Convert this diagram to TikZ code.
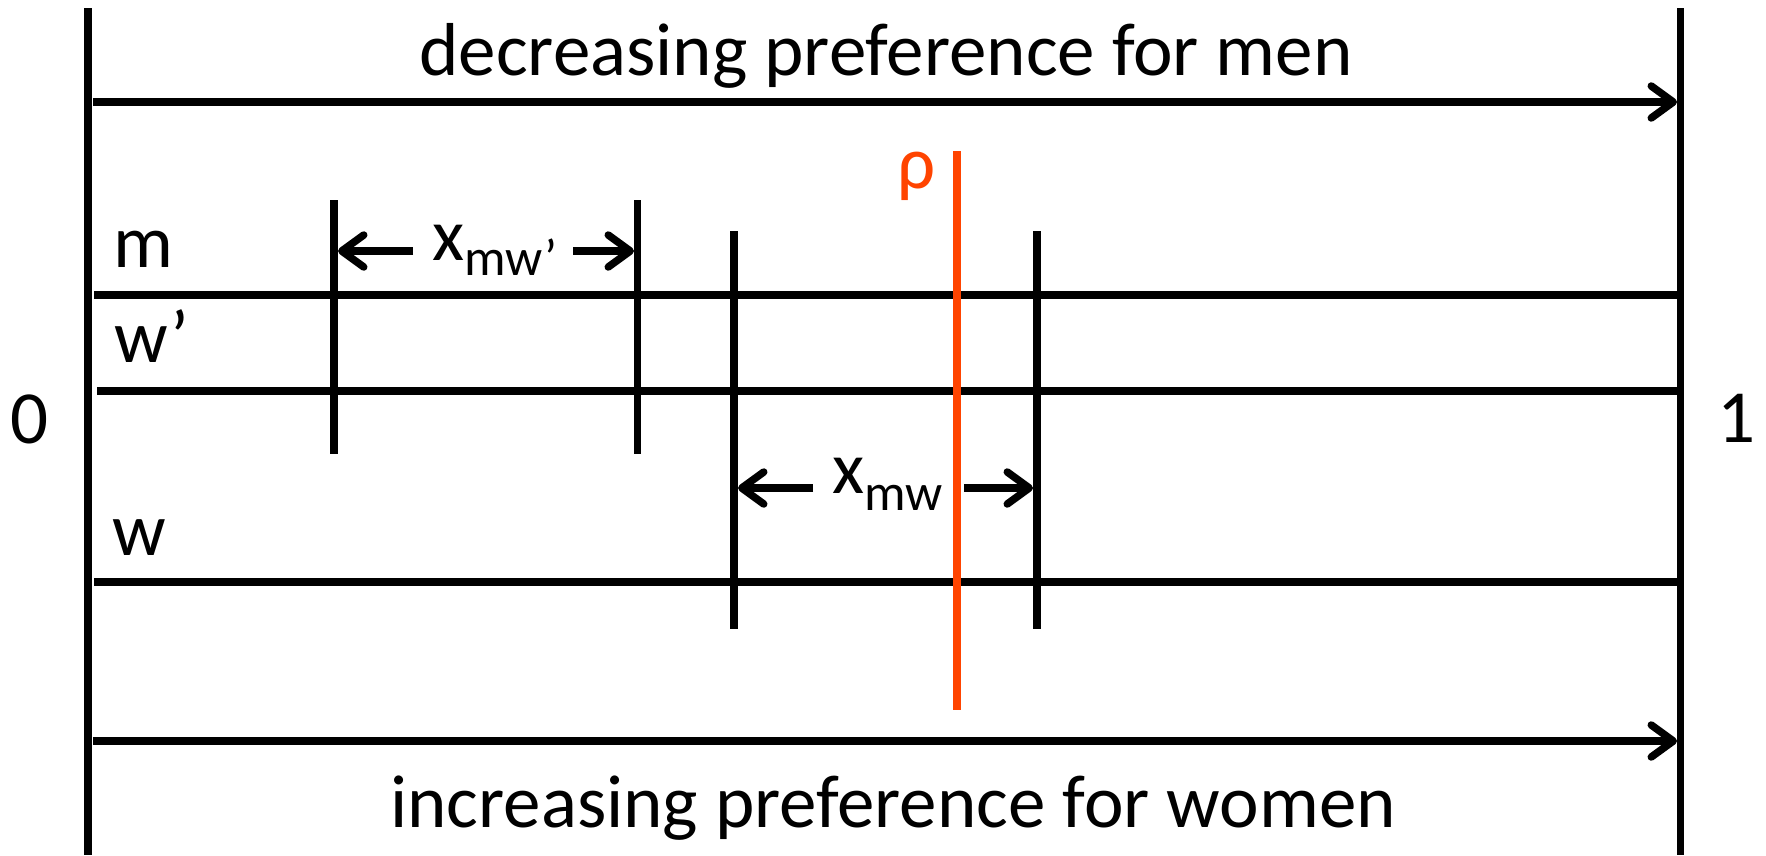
\documentclass[tikz,border=0pt]{standalone}
\usepackage{fontspec}
\setmainfont{Carlito}
\usetikzlibrary{arrows.meta}
\definecolor{rhored}{RGB}{255,68,0}
\begin{document}
\begin{tikzpicture}[x=1pt,y=-1pt,
  bar/.style={line width=7.5pt},
  arr/.style={line width=7.5pt,-{Straight Barb[length=22pt,width=32pt,round]}},
  lbl/.style={inner sep=0pt,font=\fontsize{75}{90}\selectfont},
  sublbl/.style={inner sep=0pt,font=\fontsize{74}{88}\selectfont,anchor=base west},
]
\fill[white] (0,0) rectangle (1766,855);
\useasboundingbox (0,0) rectangle (1766,855);

% frame lines
\coordinate (L0) at (88,8);     \coordinate (L1) at (88,855);
\coordinate (R0) at (1680.5,8); \coordinate (R1) at (1680.5,855);
\draw[bar] (L0) -- (L1);
\draw[bar] (R0) -- (R1);

% top and bottom arrows
\coordinate (TA0) at (93,102);  \coordinate (TA1) at (1677,102);
\coordinate (BA0) at (93,741);  \coordinate (BA1) at (1677,741);
\draw[arr] (TA0) -- (TA1);
\draw[arr] (BA0) -- (BA1);

% horizontal lines
\coordinate (M0) at (94,295);   \coordinate (M1) at (1680,295);
\coordinate (WP0) at (97,391);  \coordinate (WP1) at (1680,391);
\coordinate (W0) at (94,582);   \coordinate (W1) at (1680,582);
\draw[bar] (M0) -- (M1);
\draw[bar] (WP0) -- (WP1);
\draw[bar] (W0) -- (W1);

% ticks
\coordinate (T1a) at (334,200);   \coordinate (T1b) at (334,454);
\coordinate (T2a) at (637.5,200); \coordinate (T2b) at (637.5,454);
\coordinate (T3a) at (734,231);   \coordinate (T3b) at (734,629);
\coordinate (T4a) at (1037,231);  \coordinate (T4b) at (1037,629);
\draw[bar] (T1a) -- (T1b);
\draw[bar] (T2a) -- (T2b);
\draw[bar] (T3a) -- (T3b);
\draw[bar] (T4a) -- (T4b);

% rho line
\coordinate (Ra) at (957,151); \coordinate (Rb) at (957,710);
\draw[bar,draw=rhored] (Ra) -- (Rb);
\node[lbl,anchor=base,text=rhored] (rho) at (917,188) {ρ};

% distance arrows
\coordinate (A1s) at (413,251); \coordinate (A1e) at (338,251);
\coordinate (A2s) at (573,251); \coordinate (A2e) at (634,251);
\draw[arr] (A1s) -- (A1e);
\draw[arr] (A2s) -- (A2e);
\node[sublbl] (xmwp) at (432,260) {x\raisebox{-15pt}{\fontsize{52}{62}\selectfont mw’}};

\coordinate (B1s) at (813,488); \coordinate (B1e) at (738,488);
\coordinate (B2s) at (964,488); \coordinate (B2e) at (1033,488);
\draw[arr] (B1s) -- (B1e);
\draw[arr] (B2s) -- (B2e);
\node[sublbl] (xmw) at (832,493) {x\raisebox{-17pt}{\fontsize{52}{62}\selectfont mw}};

% labels
\node[lbl,anchor=base] (top) at (886,75) {decreasing preference for men};
\node[lbl,anchor=base] (bot) at (893,827) {increasing preference for women};
\node[lbl,anchor=base] (zero) at (30,443) {0};
\node[lbl,anchor=base] (one) at (1736,442) {1};
\node[lbl,anchor=base west] (m) at (113,267) {m};
\node[lbl,anchor=base west] (wp) at (114,362) {w’};
\node[lbl,anchor=base west] (w) at (112,555) {w};
\end{tikzpicture}
\end{document}
